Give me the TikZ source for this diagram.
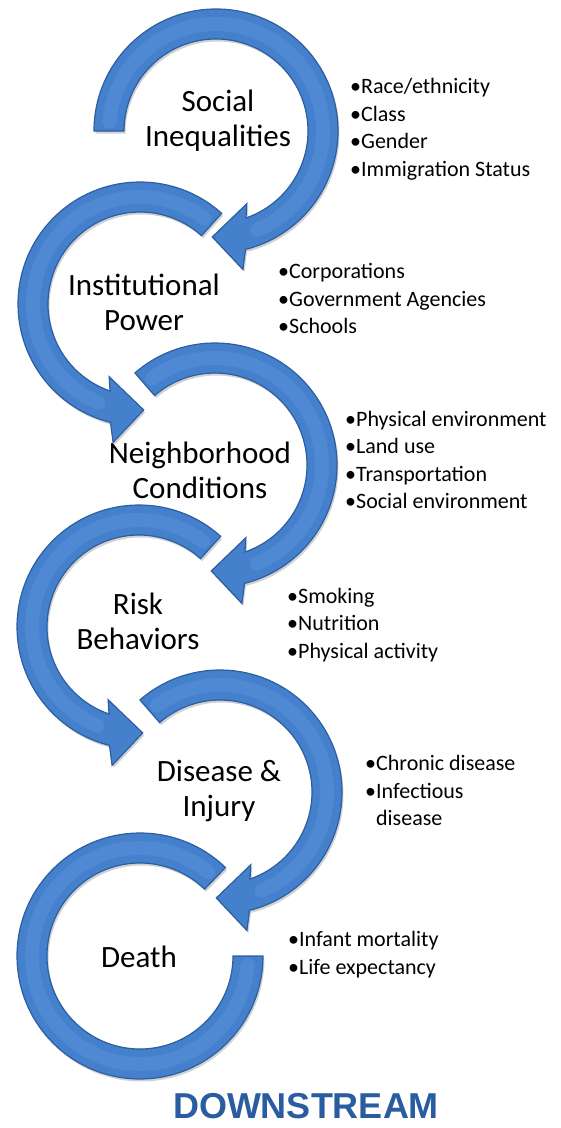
\documentclass[tikz,border=0pt]{standalone}
\usepackage{fontspec}
\setmainfont{Carlito}
\newfontfamily\headfont{Liberation Sans}
\definecolor{ringblue}{RGB}{68,128,204}
\definecolor{ringedge}{RGB}{44,94,160}
\definecolor{ringlight}{RGB}{105,160,230}
\definecolor{downblue}{RGB}{42,92,160}
\begin{document}
\begin{tikzpicture}[x=1pt,y=1pt,
    ring/.style={fill=ringblue,draw=ringedge,line width=1.2pt,
      preaction={fill=black,opacity=.18,transform canvas={shift={(1.5pt,-2.5pt)}}}},
    shine/.style={ringlight,line width=14pt,opacity=.3,line cap=round},
    stage/.style={font=\fontsize{31}{35}\selectfont,align=center,inner sep=0pt},
    items/.style={font=\fontsize{22}{27.5}\selectfont,align=left,anchor=west,inner sep=0pt}]
  \useasboundingbox (0,0) rectangle (561,-1128);

  \foreach \cx/\cy/\m/\s in {216/131/1/180,140/304/-1/132,215/465/1/131,139/627/-1/132,220/792/1/131}{
    \begin{scope}[shift={(\cx,-\cy)},xscale=\m]
      \draw[ring] (\s:122) arc[start angle=\s,end angle=-76,radius=122]
        -- (-79:141) -- (-92:106) -- (-67:79) -- (-71:92)
        arc[start angle=-71,end angle=\s,radius=92] -- cycle;
      \draw[shine] ({\s-5}:107) arc[start angle={\s-5},end angle=-67,radius=107];
    \end{scope}
  }
  \begin{scope}[shift={(140,-956)},xscale=-1]
    \draw[ring] (134:123) arc[start angle=134,end angle=-180,radius=123]
      -- (-180:93) arc[start angle=-180,end angle=134,radius=93] -- cycle;
    \draw[shine] (129:108) arc[start angle=129,end angle=-175,radius=108];
  \end{scope}

  \node[stage] (social) at (218,-120.5) {Social\\Inequalities};
  \node[stage] (power) at (144,-302.5) {Institutional\\Power};
  \node[stage] (hood) at (200,-470.5) {Neighborhood\\Conditions};
  \node[stage] (risk) at (138,-621.5) {Risk\\Behaviors};
  \node[stage] (disease) at (219,-790.5) {Disease \&\\Injury};
  \node[stage] (death) at (139,-957) {Death};

  \node[items] (social-items) at (350,-129) {•Race/ethnicity\\•Class\\•Gender\\•Immigration Status};
  \node[items] (power-items) at (278,-298.5) {•Corporations\\•Government Agencies\\•Schools};
  \node[items] (hood-items) at (345,-460) {•Physical environment\\•Land use\\•Transportation\\•Social environment};
  \node[items] (risk-items) at (287,-625) {•Smoking\\•Nutrition\\•Physical activity};
  \node[items] (disease-items) at (365,-790.5) {•Chronic disease\\•Infectious\\\phantom{•}disease};
  \node[items] (death-items) at (288,-954.5) {•Infant mortality\\•Life expectancy};

  \node[font=\headfont\bfseries\fontsize{36}{36}\selectfont,text=downblue,inner sep=0pt] (down) at (306,-1106) {DOWNSTREAM};
\end{tikzpicture}
\end{document}
